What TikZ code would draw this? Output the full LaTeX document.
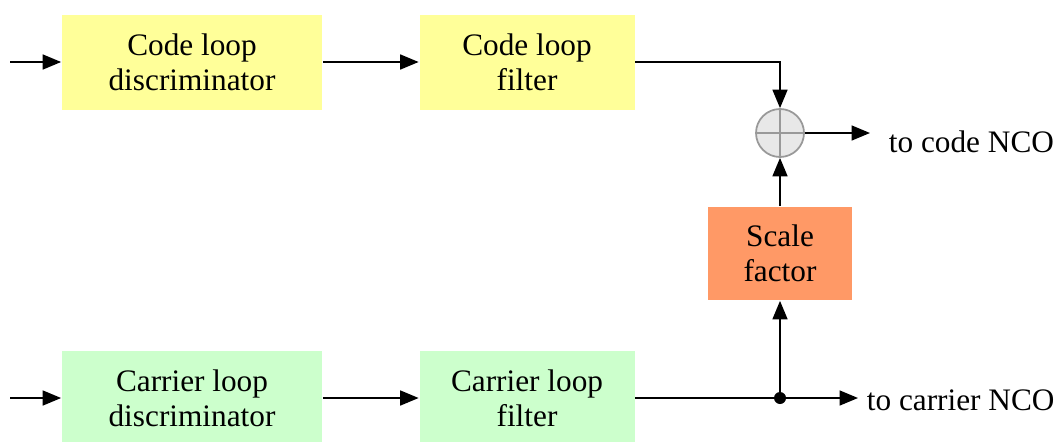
\documentclass[tikz,border=0pt]{standalone}
\usepackage{fontspec}
\setmainfont{Liberation Serif}
\newfontfamily\blockfont{Liberation Serif}
\usetikzlibrary{arrows.meta, positioning}

\definecolor{codeyellow}{HTML}{FFFF99}
\definecolor{carriergreen}{HTML}{CCFFCC}
\definecolor{scaleorange}{HTML}{FF9966}

\begin{document}
\begin{tikzpicture}[line width=1pt,
 >={Triangle[length=10.5pt,width=8.5pt]},
 block/.style={rectangle,align=center,inner sep=0pt,minimum width=5.2cm,
   minimum height=1.9cm,font=\blockfont\fontsize{17.8}{20}\selectfont},
 code block/.style={block,fill=codeyellow},
 carrier block/.style={block,fill=carriergreen},
 sum node/.style={circle,draw=gray!80,fill=gray!18,minimum size=0.96cm,inner sep=0pt},
 label text/.style={inner sep=0pt,anchor=west,font=\blockfont\fontsize{17.8}{20}\selectfont}]

  \useasboundingbox (0,0) rectangle (21.2,8.82);

  \node[code block] (codedisc) at (3.84,7.58) {Code loop\\discriminator};
  \node[code block,minimum width=4.3cm] (codefilt) at (10.54,7.58) {Code loop\\filter};
  \node[carrier block] (cardisc) at (3.84,0.86) {Carrier loop\\discriminator};
  \node[carrier block,minimum width=4.3cm] (carfilt) at (10.54,0.86) {Carrier loop\\filter};

  \node[sum node] (sum) at (15.6,6.16) {};
  \draw[gray!80] (sum.north) -- (sum.south) (sum.west) -- (sum.east);

  \node[block,fill=scaleorange,minimum width=2.88cm,minimum height=1.86cm]
    (scale) at (15.6,3.75) {Scale\\factor};

  \coordinate (in1) at (0.2,7.58);
  \coordinate (in2) at (0.2,0.86);
  \coordinate (out1) at (17.4,6.16);
  \coordinate (out2) at (17.16,0.86);
  \coordinate (junc) at (15.6,0.86);

  \node[label text] (codenco) at (17.76,5.99) {to code NCO};
  \node[label text] (carnco) at (17.32,0.82) {to carrier NCO};

  % code loop
  \draw[->] (in1) -- (codedisc);
  \draw[->] (codedisc) -- (codefilt);
  \draw[->] (codefilt) -| (sum);
  \draw[->] (sum) -- (out1);

  % carrier loop
  \draw[->] (in2) -- (cardisc);
  \draw[->] (cardisc) -- (carfilt);
  \draw (carfilt) -- (junc);
  \draw[->] (junc) -- (out2);
  \draw[->] (junc) -- (scale);
  \draw[->] (scale) -- (sum);
  \fill (junc) circle (0.12);

\end{tikzpicture}
\end{document}
